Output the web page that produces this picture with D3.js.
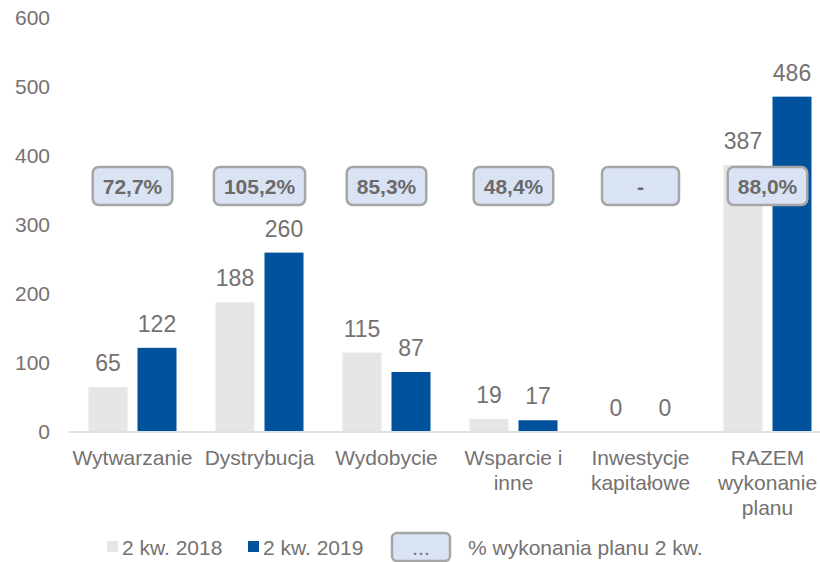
<!DOCTYPE html>
<html>
<head>
<meta charset="utf-8">
<script src="https://cdn.jsdelivr.net/npm/d3@7"></script>
<style>
  body { margin: 0; background: #fff; }
  svg { display: block; font-family: Arial, "Liberation Sans", sans-serif; }
</style>
</head>
<body>
<svg width="820" height="562"></svg>
<script>
// data
const categories = ['Wytwarzanie', 'Dystrybucja', 'Wydobycie', 'Wsparcie i inne', 'Inwestycje kapitałowe', 'RAZEM wykonanie planu'];
const categoryLines = [['Wytwarzanie'], ['Dystrybucja'], ['Wydobycie'], ['Wsparcie i', 'inne'], ['Inwestycje', 'kapitałowe'], ['RAZEM', 'wykonanie', 'planu']];
const seriesNames = ['2 kw. 2018', '2 kw. 2019'];
const values2018 = [65, 188, 115, 19, 0, 387];
const values2019 = [122, 260, 87, 17, 0, 486];
const planPct = ['72,7%', '105,2%', '85,3%', '48,4%', '-', '88,0%'];
const yTicks = [0, 100, 200, 300, 400, 500, 600];
const legendBadgeText = '...';
const legendBadgeLabel = '% wykonania planu 2 kw.';

const colors = ['#e6e6e6', '#00529c'];
const textColor = '#767171';

const svg = d3.select('svg');

const plotLeft = 69, plotRight = 831, plotTop = 18, plotBase = 432;

const x0 = d3.scaleBand()
    .domain(categories)
    .range([plotLeft, plotRight])
    .paddingInner(39 / 127)
    .paddingOuter(19.5 / 127);

const x1 = d3.scaleBand()
    .domain(seriesNames)
    .range([0, x0.bandwidth()])
    .paddingInner(10 / 49);

const y = d3.scaleLinear()
    .domain([0, 600])
    .range([plotBase, plotTop]);

const rows = categories.map((c, i) => ({
    cat: c,
    lines: categoryLines[i],
    pct: planPct[i],
    vals: [values2018[i], values2019[i]]
}));

// y tick labels (no axis line, no gridlines)
const yAxis = svg.append('g')
    .attr('transform', 'translate(50,0)')
    .call(d3.axisLeft(y).tickValues(yTicks).tickSize(0).tickPadding(0));
yAxis.select('.domain').remove();
yAxis.selectAll('text')
    .attr('fill', textColor)
    .style('font-size', '21px')
    .style('font-family', 'Arial, "Liberation Sans", sans-serif');

// bars
const groups = svg.selectAll('.grp')
    .data(rows)
    .enter()
    .append('g')
    .attr('class', 'grp')
    .attr('transform', d => `translate(${x0(d.cat)},0)`);

groups.selectAll('rect')
    .data(d => d.vals.map((v, j) => ({ v: v, s: seriesNames[j], j: j })))
    .enter()
    .append('rect')
    .attr('x', d => x1(d.s))
    .attr('y', d => y(d.v))
    .attr('width', x1.bandwidth())
    .attr('height', d => plotBase - y(d.v))
    .attr('fill', d => colors[d.j]);

groups.selectAll('.val')
    .data(d => d.vals.map((v, j) => ({ v: v, s: seriesNames[j] })))
    .enter()
    .append('text')
    .attr('class', 'val')
    .attr('x', d => x1(d.s) + x1.bandwidth() / 2)
    .attr('y', d => y(d.v) - 16)
    .attr('text-anchor', 'middle')
    .attr('fill', textColor)
    .style('font-size', '23px')
    .text(d => d.v);

// x axis baseline
const xAxis = svg.append('g')
    .attr('transform', `translate(0,${plotBase})`)
    .call(d3.axisBottom(x0).tickSize(0).tickFormat(''));
xAxis.select('.domain')
    .attr('d', `M${plotLeft},0H820`)
    .attr('stroke', '#d9e1ea')
    .attr('stroke-width', 2);

// category labels
svg.selectAll('.cat')
    .data(rows)
    .enter()
    .append('text')
    .attr('class', 'cat')
    .attr('text-anchor', 'middle')
    .attr('fill', textColor)
    .style('font-size', '21px')
    .each(function (d) {
        const t = d3.select(this);
        d.lines.forEach((ln, k) => {
            t.append('tspan')
                .attr('x', x0(d.cat) + x0.bandwidth() / 2)
                .attr('y', 465 + k * 25)
                .text(ln);
        });
    });

// percentage badges
function badge(g, cx, cy, txt, minW, h, fs) {
    const t = g.append('text')
        .attr('x', cx)
        .attr('y', cy)
        .attr('dy', '0.36em')
        .attr('text-anchor', 'middle')
        .attr('fill', '#6a6a6a')
        .style('font-size', fs + 'px')
        .style('font-weight', 'bold')
        .text(txt);
    const w = Math.max(minW, t.node().getComputedTextLength() + 20);
    g.insert('rect', 'text')
        .attr('x', cx - w / 2)
        .attr('y', cy - h / 2)
        .attr('width', w)
        .attr('height', h)
        .attr('rx', 6)
        .attr('fill', '#dae3f3')
        .attr('stroke', '#a6a6a6')
        .attr('stroke-width', 2.5);
}

rows.forEach(d => {
    const g = svg.append('g');
    badge(g, x0(d.cat) + x0.bandwidth() / 2, 186, d.pct, 77, 38, 21);
});

// legend
const legend = svg.append('g');
const legItems = [{ x: 107, tx: 122 }, { x: 248, tx: 263 }];
seriesNames.forEach((s, i) => {
    legend.append('rect')
        .attr('x', legItems[i].x)
        .attr('y', 541)
        .attr('width', 11)
        .attr('height', 11)
        .attr('fill', colors[i]);
    legend.append('text')
        .attr('x', legItems[i].tx)
        .attr('y', 547)
        .attr('dy', '0.36em')
        .attr('fill', textColor)
        .style('font-size', '21px')
        .text(s);
});

const lb = legend.append('g');
lb.append('rect')
    .attr('x', 392)
    .attr('y', 533)
    .attr('width', 58)
    .attr('height', 28)
    .attr('rx', 5)
    .attr('fill', '#dae3f3')
    .attr('stroke', '#a6a6a6')
    .attr('stroke-width', 2.5);
lb.append('text')
    .attr('x', 421)
    .attr('y', 555)
    .attr('text-anchor', 'middle')
    .attr('fill', textColor)
    .style('font-size', '21px')
    .text(legendBadgeText);

legend.append('text')
    .attr('x', 468)
    .attr('y', 547)
    .attr('dy', '0.36em')
    .attr('fill', textColor)
    .style('font-size', '21px')
    .text(legendBadgeLabel);
</script>
</body>
</html>
